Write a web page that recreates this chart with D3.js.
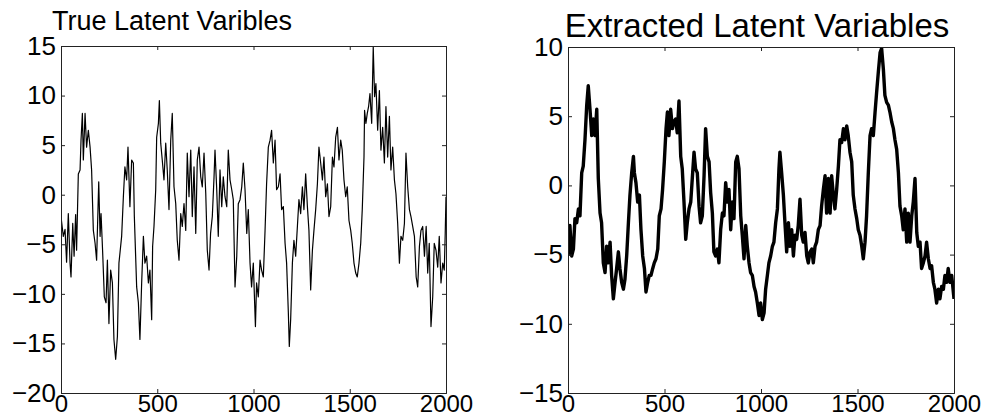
<!DOCTYPE html>
<html>
<head>
<meta charset="utf-8">
<script src="https://cdn.jsdelivr.net/npm/d3@7"></script>
<style>
  body { margin: 0; background: #fff; }
  text { font-family: "Liberation Sans", Arial, Helvetica, sans-serif; fill: #000; }
</style>
</head>
<body>
<div class="chart"></div>
<script>
var svgWidth = 985;
var svgHeight = 416;

// sample index / value pairs
var trueX = [0,12,21,29,38,47,52,61,68,76,81,90,99,104,111,116,125,133,142,151,159,168,177,185,196,203,208,216,225,234,241,249,258,267,275,284,293,301,315,324,332,341,348,358,367,376,381,393,402,410,419,428,436,445,454,462,471,476,483,492,497,506,511,518,526,535,544,552,561,570,578,587,596,604,613,622,630,639,648,656,665,674,682,691,700,708,717,726,734,743,752,760,769,777,786,795,800,809,817,826,835,843,852,861,869,878,887,895,904,913,921,930,939,947,956,965,973,982,990,999,1010,1016,1025,1034,1042,1051,1060,1068,1077,1086,1094,1103,1112,1120,1129,1138,1146,1155,1164,1172,1181,1186,1193,1202,1210,1219,1228,1236,1245,1254,1262,1271,1280,1288,1297,1306,1314,1323,1332,1340,1349,1358,1366,1375,1384,1392,1401,1410,1418,1427,1436,1444,1453,1461,1470,1479,1487,1496,1505,1513,1522,1531,1539,1548,1557,1565,1574,1577,1584,1591,1598,1605,1614,1622,1629,1636,1645,1654,1662,1671,1680,1688,1697,1706,1714,1723,1732,1740,1749,1758,1766,1775,1784,1792,1801,1810,1818,1827,1836,1845,1853,1862,1870,1879,1888,1897,1905,1913,1922,1931,1939,1948,1957,1965,1974,1983,1991,1996,2000];
var trueY = [-2.2,-4.2,-3.5,-6.8,-1.9,-6.9,-8.3,-2.9,-6.2,-2.0,-5.6,2.1,2.5,5.5,8.2,3.5,8.2,4.8,6.5,4.8,2.5,-3.6,-4.9,-6.6,1.3,-4.2,-1.9,-5.6,-10.3,-10.9,-6.6,-13.0,-7.6,-8.9,-14.6,-16.6,-14.3,-6.9,-4.2,-0.2,2.8,1.5,4.8,-1.2,3.5,3.2,-2.2,-9.3,-10.9,-14.6,-8.9,-4.2,-6.9,-6.2,-8.9,-7.6,-12.6,-5.2,-3.2,0.5,5.8,7.2,9.5,5.2,3.5,1.5,5.2,2.5,-1.5,5.5,8.2,0.8,-0.9,-4.6,-6.6,-1.9,-3.2,-0.9,-3.6,4.2,-0.2,4.5,-2.2,2.8,-3.9,3.5,4.8,1.8,0.8,4.2,0.1,-5.6,-7.6,-3.9,-2.2,1.8,4.5,0.5,-4.2,2.5,-1.2,1.8,-0.2,-1.2,4.5,1.5,0.5,-0.5,-9.3,-6.2,-0.9,-0.5,0.8,3.2,0.5,-3.9,-1.5,-6.9,-9.3,-6.9,-13.3,-8.9,-10.3,-6.6,-7.6,-8.3,-3.6,1.1,4.8,5.5,6.5,3.2,5.5,0.5,0.8,2.1,-1.5,-1.2,-4.9,-6.9,-11.9,-15.3,-12.6,-6.9,-4.6,-6.2,-3.2,-0.5,-1.9,0.8,-1.5,2.1,-1.2,-3.6,-9.6,-5.6,-3.6,-1.5,1.1,4.8,3.2,1.5,3.8,-0.2,1.1,-2.2,-1.2,3.8,2.8,5.8,6.8,3.5,5.5,4.5,1.5,-0.2,0.8,-2.6,-3.6,-4.9,-6.9,-7.9,-8.3,-6.9,-4.9,-1.5,3.8,8.5,7.2,8.2,8.9,10.2,7.2,14.9,9.9,11.2,6.5,10.5,4.5,6.8,3.2,8.9,3.8,7.9,2.5,4.8,1.5,0.1,-2.9,-6.9,-4.2,-4.6,-2.9,4.2,0.8,-1.5,-2.2,-3.2,-4.2,-8.3,-9.3,-5.2,-3.6,-3.2,-6.2,-3.2,-7.9,-4.9,-13.3,-10.3,-4.9,-5.6,-7.3,-4.2,-8.9,-6.9,-7.6,-3.9,-0.2];

var extX = [0,10,19,28,36,45,54,62,71,79,88,97,105,114,123,131,140,149,157,166,174,183,192,200,209,218,226,235,244,252,261,269,278,287,295,304,313,321,330,339,344,352,361,370,378,387,396,404,413,421,430,439,447,456,465,473,482,490,499,508,515,523,532,541,549,558,566,575,584,592,601,610,618,627,636,644,653,661,670,679,687,696,705,713,722,731,739,748,756,765,774,782,791,800,808,817,826,834,843,851,860,869,877,886,895,903,912,921,929,938,946,955,964,972,981,990,998,1007,1016,1024,1033,1041,1050,1059,1067,1076,1085,1093,1098,1107,1116,1124,1133,1142,1150,1159,1168,1176,1185,1193,1202,1211,1219,1228,1237,1245,1254,1263,1271,1280,1288,1297,1306,1314,1323,1332,1340,1349,1358,1366,1375,1383,1392,1401,1409,1418,1427,1435,1444,1452,1461,1470,1478,1487,1496,1504,1513,1522,1530,1539,1547,1556,1565,1573,1582,1591,1599,1608,1617,1625,1634,1642,1651,1660,1668,1677,1686,1694,1703,1712,1720,1729,1737,1746,1755,1763,1772,1781,1789,1798,1807,1815,1824,1832,1841,1850,1858,1867,1876,1884,1893,1901,1910,1919,1927,1936,1945,1953,1962,1970,1979,1988,2000];
var extY = [-5.1,-2.9,-5.1,-4.6,-2.4,-2.7,-1.7,-2.2,0.9,1.4,3.3,5.8,7.2,5.5,3.6,4.8,3.6,5.5,0.5,-2.0,-2.7,-5.6,-6.3,-4.4,-5.6,-4.1,-6.5,-8.2,-7.0,-6.0,-4.8,-6.0,-7.0,-7.5,-6.8,-5.1,-2.7,-0.7,0.9,2.1,0.9,0.2,-1.2,-0.7,-3.2,-5.1,-6.0,-7.7,-7.0,-6.5,-6.5,-6.0,-5.6,-5.3,-4.6,-2.2,-1.7,-0.3,1.7,4.1,5.3,3.6,5.5,4.1,4.6,4.8,3.8,6.1,2.1,1.2,-1.2,-3.9,-2.7,-1.7,-1.2,0.5,2.4,1.2,0.9,-1.5,-2.7,-2.2,0.7,4.1,2.1,1.7,-0.5,-2.0,-4.8,-5.1,-4.6,-5.6,-3.2,-2.0,-2.2,0.2,-1.2,-0.3,-3.2,-1.2,-2.4,1.7,2.1,1.2,-2.2,-3.6,-5.3,-2.9,-4.4,-5.6,-6.3,-6.5,-7.3,-7.7,-8.5,-9.4,-8.5,-9.7,-9.2,-7.5,-6.5,-5.6,-5.1,-4.4,-4.1,-2.7,-1.7,1.2,2.4,0.9,-0.7,-2.7,-4.8,-2.7,-4.4,-3.2,-5.1,-3.6,-3.9,-2.9,-1.0,-3.6,-4.1,-3.4,-5.1,-5.6,-4.8,-4.6,-5.6,-4.4,-4.1,-3.2,-2.9,-1.5,-0.3,0.7,-2.0,0.5,-2.0,0.7,-0.7,-1.7,-0.3,1.4,3.3,3.1,4.1,3.3,4.3,3.6,2.4,1.7,-0.7,-1.7,-2.4,-3.2,-3.6,-4.4,-5.3,-4.1,-2.2,0.9,3.6,4.1,3.6,5.3,6.7,8.2,9.6,9.9,8.4,6.5,6.0,5.8,5.3,4.6,4.1,3.3,2.6,0.9,-1.5,-2.2,-3.2,-1.7,-4.1,-2.0,-4.1,-2.2,-1.2,0.5,-3.4,-4.4,-4.1,-6.0,-5.6,-5.1,-4.1,-5.3,-6.0,-5.8,-7.0,-7.5,-8.5,-7.5,-8.2,-7.3,-7.5,-6.5,-7.0,-6.0,-7.0,-6.5,-8.2];

var xTicks = [0, 500, 1000, 1500, 2000];
var trueTicks = [-20, -15, -10, -5, 0, 5, 10, 15];
var extTicks = [-15, -10, -5, 0, 5, 10];

var panels = [
  { title: "True Latent Varibles", xs: trueX, ys: trueY, yDomain: [-20, 15], yTicks: trueTicks,
    left: 61, right: 446, top: 46, bottom: 393, stroke: 1.2,
    titleX: 172, titleY: 30, titleSize: 27 },
  { title: "Extracted Latent Variables", xs: extX, ys: extY, yDomain: [-15, 10], yTicks: extTicks,
    left: 568, right: 954, top: 47, bottom: 393, stroke: 3.4,
    titleX: 757, titleY: 37, titleSize: 33 }
];

var svg = d3.select(".chart")
  .append("svg")
  .attr("width", svgWidth)
  .attr("height", svgHeight);

var tickLen = 4;

panels.forEach(function(p) {
  var w = p.right - p.left;
  var h = p.bottom - p.top;

  var xScale = d3.scaleLinear().domain([0, 2000]).range([0, w]);
  var yScale = d3.scaleLinear().domain(p.yDomain).range([h, 0]);

  var g = svg.append("g")
    .attr("transform", `translate(${p.left}, ${p.top})`);

  // data line, clipped to the box like matlab does
  var clipId = "clip" + p.left;
  g.append("clipPath").attr("id", clipId)
    .append("rect").attr("width", w).attr("height", h);

  var pts = p.xs.map((x, i) => [x, p.ys[i]]);
  var line = d3.line()
    .x(d => xScale(d[0]))
    .y(d => yScale(d[1]));

  g.append("path")
    .datum(pts)
    .attr("clip-path", `url(#${clipId})`)
    .attr("fill", "none")
    .attr("stroke", "#000")
    .attr("stroke-width", p.stroke)
    .attr("stroke-linejoin", "round")
    .attr("d", line);

  // inward ticks on all four sides
  var fmt = d3.format("d");
  var bottomAxis = d3.axisBottom(xScale).tickValues(xTicks).tickSize(-tickLen).tickFormat(fmt);
  var topAxis = d3.axisTop(xScale).tickValues(xTicks).tickSize(-tickLen).tickFormat("");
  var leftAxis = d3.axisLeft(yScale).tickValues(p.yTicks).tickSize(-tickLen).tickPadding(5)
    .tickFormat(d => fmt(d).replace("-", "\u2212"));
  var rightAxis = d3.axisRight(yScale).tickValues(p.yTicks).tickSize(-tickLen).tickFormat("");

  var gb = g.append("g").attr("transform", `translate(0, ${h})`).call(bottomAxis);
  g.append("g").call(topAxis);
  var gl = g.append("g").call(leftAxis);
  g.append("g").attr("transform", `translate(${w}, 0)`).call(rightAxis);

  g.selectAll(".domain").attr("stroke", "#222").attr("stroke-width", 1);
  g.selectAll(".tick line").attr("stroke", "#222");
  gb.selectAll("text").attr("font-size", 24).attr("y", 19).attr("dy", null);
  gl.selectAll("text").attr("font-size", 26);
  g.selectAll(".tick text").style("font-family", "'Liberation Sans', Arial, sans-serif");

  svg.append("text")
    .attr("x", p.titleX)
    .attr("y", p.titleY)
    .attr("text-anchor", "middle")
    .attr("font-size", p.titleSize)
    .text(p.title);
});
</script>
</body>
</html>
